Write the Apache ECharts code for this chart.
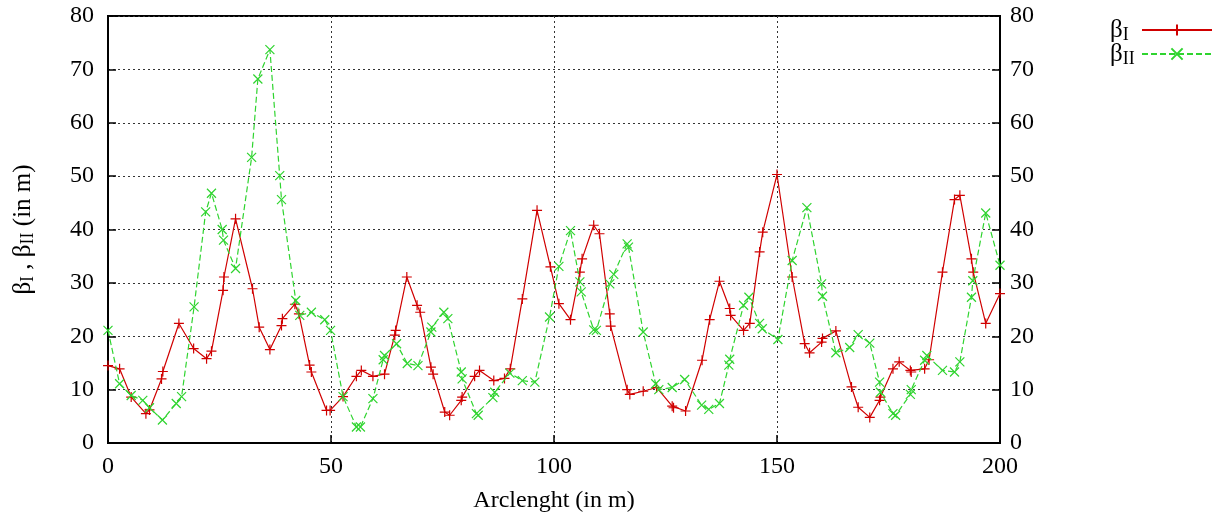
<!DOCTYPE html>
<html>
<head>
<meta charset="utf-8">
<script src="https://cdn.jsdelivr.net/npm/echarts@6/dist/echarts.min.js"></script>
<style>
  html, body { margin: 0; padding: 0; background: #fff; }
  #chart { width: 1226px; height: 525px; }
</style>
</head>
<body>
<div id="chart"></div>
<script>
// Beta functions along the lattice (arc length in m, beta in m)
const betaIx = [0, 2.6, 5.2, 8.5, 9.3, 12.0, 12.3, 15.9, 19.2, 22.1, 23.2, 25.8, 26.0, 28.6, 32.4, 33.9, 36.3, 38.9, 39.1, 41.9,
  42.8, 45.2, 45.6, 49.0, 49.8, 52.7, 55.7, 56.8, 59.4, 62.0, 64.3, 64.5, 67.0, 69.3, 70.0, 72.4, 72.9, 75.5, 76.6, 79.2,
  79.4, 82.2, 83.3, 86.5, 88.9, 90.2, 92.9, 96.2, 99.2, 101.1, 103.7, 105.8, 106.3, 108.9, 110.2, 112.5, 112.7, 116.4, 117.0, 120.0,
  123.0, 126.5, 126.8, 129.5, 133.2, 134.9, 137.1, 139.4, 139.6, 142.5, 143.9, 146.1, 146.8, 150.0, 153.4, 156.2, 157.3, 160.0, 160.2, 163.2,
  166.7, 168.2, 170.8, 173.0, 173.2, 176.0, 177.4, 179.9, 180.1, 183.1, 184.1, 187.1, 189.8, 191.0, 193.6, 194.0, 196.8, 200.0];
const betaIy = [14.5, 13.9, 8.6, 5.5, 6.2, 12.0, 13.4, 22.4, 17.7, 15.8, 17.2, 28.6, 31.1, 42.0, 28.9, 21.7, 17.5, 22.0, 23.3, 26.0,
  24.2, 14.6, 13.3, 6.1, 6.1, 8.7, 12.5, 13.6, 12.5, 12.9, 20.2, 21.1, 31.1, 25.8, 24.5, 14.2, 12.9, 5.8, 5.2, 8.0,
  8.6, 12.5, 13.6, 11.7, 12.1, 13.9, 27.0, 43.6, 33.0, 26.1, 23.1, 32.0, 34.5, 40.8, 39.2, 24.2, 21.9, 10.0, 9.1, 9.7,
  10.4, 6.9, 6.6, 6.0, 15.5, 23.1, 30.3, 25.2, 23.9, 21.1, 22.4, 35.8, 39.5, 50.3, 31.1, 18.6, 16.9, 18.9, 19.6, 21.0,
  10.5, 6.7, 4.8, 8.0, 8.6, 13.9, 15.2, 13.6, 13.3, 13.9, 15.6, 32.0, 45.6, 46.4, 34.5, 32.0, 22.4, 28.0];

const betaIIx = [0, 2.6, 5.2, 7.8, 9.3, 12.2, 15.3, 16.5, 19.3, 21.9, 23.2, 25.6, 25.9, 28.6, 32.2, 33.6, 36.3, 38.5, 38.9, 42.1,
  43.0, 45.6, 48.6, 49.9, 52.7, 55.7, 56.6, 59.4, 61.7, 62.0, 64.7, 67.1, 69.5, 72.4, 72.6, 75.3, 76.2, 79.2, 79.4, 82.6,
  83.0, 86.3, 86.7, 90.1, 92.9, 95.7, 99.0, 101.1, 103.7, 105.8, 106.1, 108.9, 109.5, 112.5, 113.4, 116.4, 116.7, 120.0, 122.8, 123.5,
  126.5, 129.3, 133.1, 134.7, 137.1, 139.2, 139.4, 142.5, 143.7, 146.1, 146.7, 150.2, 153.4, 156.7, 160.0, 160.2, 163.2, 166.3, 168.2, 170.8,
  173.0, 173.2, 176.0, 176.6, 179.9, 180.1, 183.1, 183.6, 187.1, 189.8, 191.0, 193.6, 193.9, 196.8, 200.0];
const betaIIy = [21.1, 11.1, 8.9, 8.0, 6.6, 4.3, 7.4, 8.7, 25.5, 43.3, 46.8, 40.0, 38.0, 32.7, 53.5, 68.2, 73.7, 50.1, 45.6, 26.7,
  23.9, 24.5, 23.1, 21.1, 8.7, 3.0, 3.0, 8.3, 15.6, 16.4, 18.6, 14.9, 14.5, 20.8, 21.7, 24.5, 23.3, 13.3, 12.0, 5.5,
  5.2, 8.5, 9.5, 13.1, 11.7, 11.4, 23.6, 33.1, 39.8, 30.2, 28.3, 21.2, 21.1, 29.8, 31.6, 37.3, 36.7, 20.8, 11.1, 10.0,
  10.4, 11.9, 7.1, 6.3, 7.4, 14.6, 15.7, 25.8, 27.3, 22.4, 21.4, 19.4, 34.2, 44.1, 29.8, 27.5, 16.9, 17.9, 20.3, 18.7,
  11.4, 9.5, 5.5, 5.2, 9.1, 10.0, 15.5, 16.4, 13.6, 13.3, 15.2, 27.3, 30.4, 43.1, 33.3];

const xTicks = [0, 50, 100, 150, 200];
const yTicks = [0, 10, 20, 30, 40, 50, 60, 70, 80];

const zip = (xs, ys) => xs.map((x, i) => [x, ys[i]]);

const FONT = 'Liberation Serif';
const FS = 24;
const RED = '#d00000';
const GREEN = '#2fd42f';
const PLUS = 'path://M5,0L5,10M0,5L10,5';
const CROSS = 'path://M0,0L10,10M0,10L10,0';

// Greek beta with roman-numeral subscripts
const subRich = {
  b: { fontFamily: FONT, fontSize: 25, lineHeight: 22, color: '#000', align: 'left' },
  s: { fontFamily: FONT, fontSize: 18, lineHeight: 12, color: '#000', align: 'left', padding: [10, 0, 0, 0] }
};

const gridLine = { show: true, lineStyle: { color: '#333', type: [2, 3], width: 1 } };

function yAxis(pos, withName) {
  return {
    type: 'value', position: pos, min: yTicks[0], max: yTicks[yTicks.length - 1], interval: 10,
    axisLine: { show: true, lineStyle: { color: '#000', width: 2 } },
    axisTick: { show: true, inside: true, length: 8, lineStyle: { color: '#000', width: 1.5 } },
    axisLabel: { fontFamily: FONT, fontSize: FS, color: '#000', margin: pos === 'left' ? 14 : 10 },
    splitLine: pos === 'left' ? gridLine : { show: false },
    name: withName ? '{b|β}{s|I}{b| , β}{s|II}{b| (in m)}' : '',
    nameLocation: 'middle', nameGap: 74, nameRotate: 90,
    nameTextStyle: { rich: subRich }
  };
}

const chart = echarts.init(document.getElementById('chart'), null, { renderer: 'canvas' });
chart.setOption({
  animation: false,
  backgroundColor: '#fff',
  grid: { left: 108, right: 226, top: 16, bottom: 82, show: true, borderColor: '#000', borderWidth: 2 },
  legend: {
    orient: 'vertical', right: 8, top: 11, align: 'right',
    itemWidth: 70, itemHeight: 14, itemGap: -4,
    formatter: n => n === 'betaI' ? '{b|β}{s|I}' : '{b|β}{s|II}',
    textStyle: { rich: subRich, width: 27 }
  },
  xAxis: {
    type: 'value', min: xTicks[0], max: xTicks[xTicks.length - 1], interval: 50,
    axisLine: { show: true, lineStyle: { color: '#000', width: 2 } },
    axisTick: { show: true, inside: true, length: 8, lineStyle: { color: '#000', width: 1.5 } },
    axisLabel: { fontFamily: FONT, fontSize: FS, color: '#000', margin: 12 },
    splitLine: gridLine,
    name: 'Arclenght (in m)', nameLocation: 'middle', nameGap: 46,
    nameTextStyle: { fontFamily: FONT, fontSize: FS, color: '#000' }
  },
  yAxis: [yAxis('left', true), yAxis('right', false)],
  series: [
    {
      name: 'betaI', type: 'line', data: zip(betaIx, betaIy),
      symbol: PLUS, symbolSize: 10,
      lineStyle: { color: RED, width: 1.2 },
      itemStyle: { color: RED, borderColor: RED, borderWidth: 1.2 },
      z: 3
    },
    {
      name: 'betaII', type: 'line', data: zip(betaIIx, betaIIy),
      symbol: CROSS, symbolSize: 9,
      lineStyle: { color: GREEN, width: 1.2, type: [6, 3] },
      itemStyle: { color: GREEN, borderColor: GREEN, borderWidth: 1.2 },
      z: 4
    }
  ]
});
</script>
</body>
</html>
